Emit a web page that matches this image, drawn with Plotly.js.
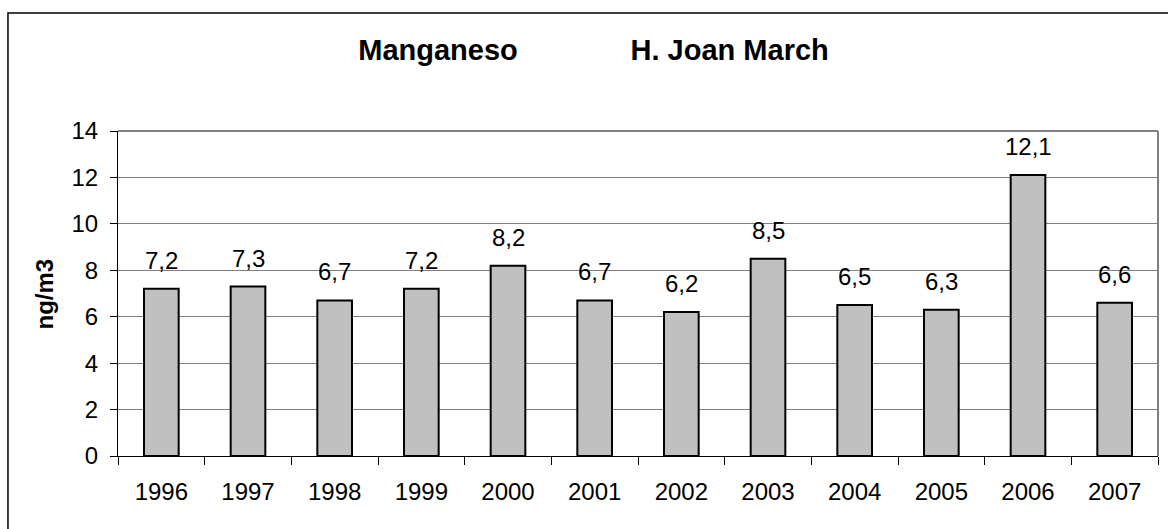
<!DOCTYPE html>
<html><head><meta charset="utf-8">
<script src="https://cdn.plot.ly/plotly-3.0.1.min.js"></script>
<style>html,body{margin:0;padding:0;background:#fff}#chart{width:1168px;height:529px}</style>
</head><body><div id="chart"></div>
<script>
const years = ['1996','1997','1998','1999','2000','2001','2002','2003','2004','2005','2006','2007'];
const values = [7.2, 7.3, 6.7, 7.2, 8.2, 6.7, 6.2, 8.5, 6.5, 6.3, 12.1, 6.6];
const yTicks = [0, 2, 4, 6, 8, 10, 12, 14];
const titleLeft = 'Manganeso';
const titleRight = 'H. Joan March';
const yTitle = 'ng/m3';

const fnt = 'Liberation Sans, Arial, sans-serif';
const labels = values.map(v => v.toFixed(1).replace('.', ','));

const trace = {
  type: 'bar', x: years, y: values,
  marker: {color: '#c0c0c0', line: {color: '#000', width: 2}},
  hoverinfo: 'skip'
};

const annotations = years.map((yr, i) => ({
  x: i, y: values[i], xref: 'x', yref: 'y', text: labels[i],
  showarrow: false, yanchor: 'bottom', yshift: 13,
  font: {family: fnt, size: 24, color: '#000'}
}));
annotations.push({xref: 'paper', yref: 'paper', x: -0.0702, y: 0.5, xanchor: 'center', yanchor: 'middle',
  text: '<b>' + yTitle + '</b>', textangle: -90, showarrow: false,
  font: {family: fnt, size: 24, color: '#000'}});

const layout = {
  width: 1168, height: 529,
  margin: {l: 118, r: 10, t: 131, b: 73},
  paper_bgcolor: '#fff', plot_bgcolor: '#fff',
  bargap: 0.6,
  showlegend: false,
  title: {text: '<b>' + titleLeft + '\u00A0'.repeat(14) + titleRight + '</b>',
    x: 593.5 / 1168, xref: 'container', xanchor: 'center', y: 0.905, yref: 'container', yanchor: 'middle',
    font: {family: fnt, size: 29, color: '#000'}},
  xaxis: {type: 'category', showline: true, linecolor: '#000', linewidth: 1,
    range: [-0.5, 11.5], autorange: false,
    ticks: 'outside', tickson: 'boundaries', ticklen: 8, tickcolor: '#000', showgrid: false,
    ticklabelstandoff: 14,
    tickfont: {family: fnt, size: 24, color: '#000'}, fixedrange: true},
  yaxis: {range: [0, 14], autorange: false, tickvals: yTicks, ticktext: yTicks.map(String), showline: true, linecolor: '#000', linewidth: 1,
    ticks: 'outside', ticklen: 7, tickcolor: '#000', showgrid: true, gridcolor: '#808080', gridwidth: 1,
    zeroline: false, ticklabelstandoff: 7,
    tickfont: {family: fnt, size: 24, color: '#000'}, fixedrange: true},
  annotations: annotations,
  shapes: [
    {type: 'line', xref: 'paper', yref: 'paper', x0: 0, x1: 1, y0: 1, y1: 1, line: {color: '#808080', width: 2}},
    {type: 'line', xref: 'paper', yref: 'paper', x0: 1, x1: 1, y0: 0, y1: 1, line: {color: '#808080', width: 2}},
    {type: 'rect', xref: 'paper', yref: 'paper', x0: -0.1058, x1: 1.05, y0: 1.363, y1: -0.3, line: {color: '#000', width: 1.5}, layer: 'below'}
  ]
};
Plotly.newPlot('chart', [trace], layout, {displayModeBar: false, staticPlot: true});
</script></body></html>
